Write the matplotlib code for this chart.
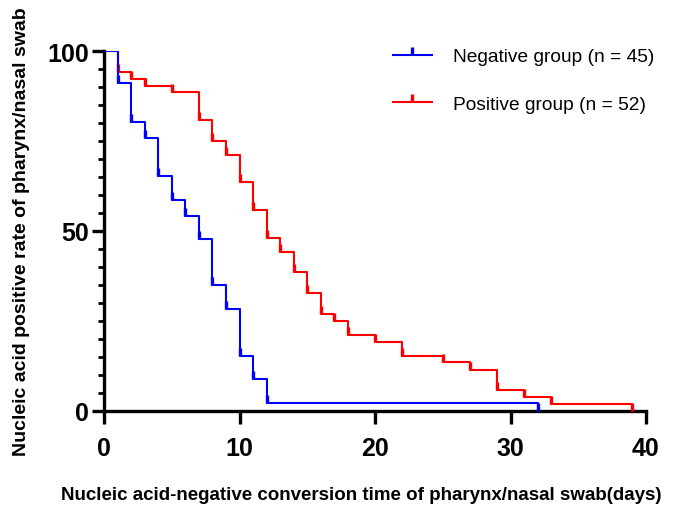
import matplotlib
matplotlib.use("Agg")
import matplotlib.pyplot as plt
from matplotlib.lines import Line2D
from matplotlib.ticker import MultipleLocator

# Data (days, percent still positive)
neg_days = [0, 1, 2, 3, 4, 5, 6, 7, 8, 9, 10, 11, 12, 32]
neg_pct = [100, 91.1, 80.3, 75.8, 65.4, 58.5, 54.2, 47.9, 34.9, 28.3, 15.4, 8.8, 2.2, 0]

pos_days = [0, 1, 2, 3, 5, 7, 8, 9, 10, 11, 12, 13, 14, 15, 16, 17, 18, 20, 22, 25, 27, 29, 31, 33, 39]
pos_pct = [100, 94.2, 92.3, 90.4, 88.5, 80.8, 75.0, 71.2, 63.5, 55.8, 48.1, 44.2, 38.5,
           32.7, 26.9, 25.0, 21.2, 19.2, 15.4, 13.5, 11.5, 5.8, 3.8, 1.9, 0]

neg_label = "Negative group (n = 45)"
pos_label = "Positive group (n = 52)"
x_ticks = [0, 10, 20, 30, 40]
y_ticks = [0, 50, 100]

plt.rcParams['font.family'] = ['Liberation Sans', 'DejaVu Sans']

fig = plt.figure(figsize=(6.73, 5.10), dpi=100)
ax = fig.add_axes([104/673, 98/510, 542/673, 360/510])

lw = 1.5
ms = 5.5
mew = 2.4
ax.step(pos_days, pos_pct, where='post', color='#ff0000', lw=lw, zorder=3)
ax.plot(pos_days[1:], pos_pct[1:], linestyle='none', marker=2, markersize=ms,
        markeredgewidth=mew, color='#ff0000', zorder=3)
ax.step(neg_days, neg_pct, where='post', color='#0000ff', lw=lw, zorder=4)
ax.plot(neg_days[1:], neg_pct[1:], linestyle='none', marker=2, markersize=ms,
        markeredgewidth=mew, color='#0000ff', zorder=4)

ax.set_xlim(0, 40)
ax.set_ylim(0, 100)
ax.set_xticks(x_ticks)
ax.set_yticks(y_ticks)
ax.yaxis.set_minor_locator(MultipleLocator(5))

for s in ['top', 'right']:
    ax.spines[s].set_visible(False)
for s in ['left', 'bottom']:
    ax.spines[s].set_linewidth(2.4)
    ax.spines[s].set_capstyle('projecting')

ax.tick_params(axis='both', which='major', length=9, width=2.4, labelsize=18, color='black')
ax.tick_params(axis='x', which='major', pad=9)
ax.tick_params(axis='y', which='major', pad=2)
ax.tick_params(axis='y', which='minor', length=4.5, width=2.0)
for lab in ax.get_xticklabels() + ax.get_yticklabels():
    lab.set_fontweight('bold')

ax.set_xlabel("Nucleic acid-negative conversion time of pharynx/nasal swab(days)",
              fontsize=13.5, fontweight='bold')
ax.set_ylabel("Nucleic acid positive rate of pharynx/nasal swab",
              fontsize=14, fontweight='bold')
ax.xaxis.set_label_coords(0.4745, -0.208)
ax.yaxis.set_label_coords(-0.1365, 0.5)

handles = [
    Line2D([], [], color='#0000ff', lw=lw, marker=2, markersize=ms, markeredgewidth=mew),
    Line2D([], [], color='#ff0000', lw=lw, marker=2, markersize=ms, markeredgewidth=mew),
]
leg = ax.legend(handles, [neg_label, pos_label], loc='upper left',
                bbox_to_anchor=(393/673, 1 - 49/510), bbox_transform=fig.transFigure,
                frameon=False, fontsize=13.8, handlelength=2.03, handletextpad=1.1,
                labelspacing=1.55, borderpad=0, borderaxespad=0)

fig.savefig("out.png", dpi=100)
